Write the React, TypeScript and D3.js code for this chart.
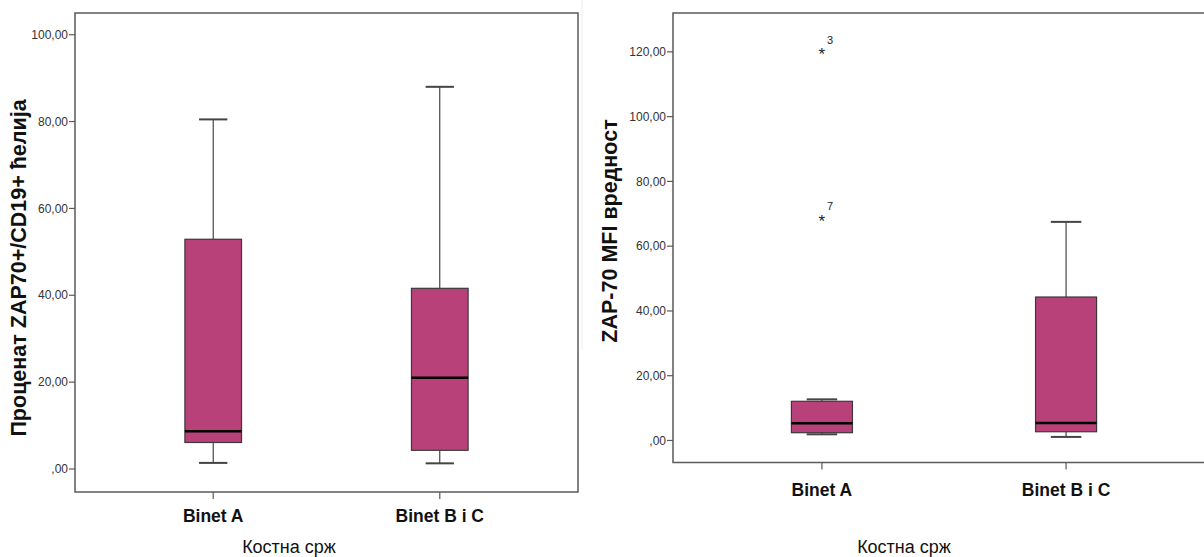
import React from "react";
import * as d3 from "d3";

// Groups on the x axis
const categories = ["Binet A", "Binet B i C"];

// Five-number summaries: [lower whisker, Q1, median, Q3, upper whisker]
const pctStats = [
  [1.4, 6.1, 8.7, 52.9, 80.5],
  [1.3, 4.3, 21.0, 41.6, 88.0],
];
const mfiStats = [
  [1.9, 2.4, 5.3, 12.1, 12.7],
  [1.1, 2.7, 5.4, 44.3, 67.5],
];

// Extreme values shown as stars, with case numbers
const mfiOutliers = [
  { group: "Binet A", value: 121.3, id: "3" },
  { group: "Binet A", value: 70.0, id: "7" },
];

const pctTicks = [0, 20, 40, 60, 80, 100];
const mfiTicks = [0, 20, 40, 60, 80, 100, 120];

const BOX_FILL = "#b9417a";
const FRAME = "#5a5a5a";
const FONT = "'Liberation Sans', Arial, sans-serif";

const fmt = (v: number) => {
  const s = d3.format(".2f")(v).replace(".", ",");
  return s.startsWith("0,") ? s.slice(1) : s;
};

type Outlier = { group: string; value: number; id: string };

function BoxPanel(props: {
  x0: number;
  x1: number;
  yTop: number;
  yBottom: number;
  domain: [number, number];
  ticks: number[];
  stats: number[][];
  outliers: Outlier[];
  yTitle: string;
  yTitleX: number;
  yTitleY: number;
  catLabelY: number;
  xTitleX: number;
  xTitleY: number;
}) {
  const { x0, x1, yTop, yBottom, domain, ticks, stats, outliers } = props;
  const x = d3.scalePoint<string>().domain(categories).range([x0, x1]).padding(0.61);
  const y = d3.scaleLinear().domain(domain).range([yBottom, yTop]);
  const step = x.step();
  const bw = step * 0.25;
  const cw = bw / 2;

  return (
    <g>
      {/* frame */}
      <rect x={x0} y={yTop} width={x1 - x0} height={yBottom - yTop} fill="none" stroke={FRAME} strokeWidth={1.5} />
      {/* y ticks */}
      {ticks.map((t) => (
        <g key={t}>
          <line x1={x0 - 6} x2={x0} y1={y(t)} y2={y(t)} stroke={FRAME} strokeWidth={1.2} />
          <text x={x0 - 7} y={y(t)} dy="0.35em" textAnchor="end" fontSize={12} fill="#333" fontFamily={FONT}>
            {fmt(t)}
          </text>
        </g>
      ))}
      {/* x ticks and category labels */}
      {categories.map((c) => (
        <g key={c}>
          <line x1={x(c)!} x2={x(c)!} y1={yBottom} y2={yBottom + 7} stroke={FRAME} strokeWidth={1.2} />
          <text x={x(c)!} y={props.catLabelY} textAnchor="middle" fontSize={17.5} fontWeight="bold" fill="#111" fontFamily={FONT}>
            {c}
          </text>
        </g>
      ))}
      {/* boxes */}
      {categories.map((c, i) => {
        const [lo, q1, med, q3, hi] = stats[i];
        const cx = x(c)!;
        return (
          <g key={c}>
            <line x1={cx} x2={cx} y1={y(hi)} y2={y(q3)} stroke="#222" strokeWidth={1} />
            <line x1={cx} x2={cx} y1={y(q1)} y2={y(lo)} stroke="#222" strokeWidth={1} />
            <line x1={cx - cw / 2} x2={cx + cw / 2} y1={y(hi)} y2={y(hi)} stroke="#444" strokeWidth={2} />
            <line x1={cx - cw / 2} x2={cx + cw / 2} y1={y(lo)} y2={y(lo)} stroke="#444" strokeWidth={2} />
            <rect x={cx - bw / 2} y={y(q3)} width={bw} height={y(q1) - y(q3)} fill={BOX_FILL} stroke="#3a3a3a" strokeWidth={1.2} />
            <line x1={cx - bw / 2} x2={cx + bw / 2} y1={y(med)} y2={y(med)} stroke="#000" strokeWidth={2.5} />
          </g>
        );
      })}
      {/* outliers */}
      {outliers.map((o) => (
        <g key={o.id}>
          <text x={x(o.group)!} y={y(o.value)} dy="0.75em" textAnchor="middle" fontSize={17} fill="#222" fontFamily={FONT}>
            *
          </text>
          <text x={x(o.group)! + 5} y={y(o.value) - 4} fontSize={11} fill="#222" fontFamily={FONT}>
            {o.id}
          </text>
        </g>
      ))}
      {/* axis titles */}
      <text
        transform={`translate(${props.yTitleX},${props.yTitleY}) rotate(-90)`}
        textAnchor="middle"
        fontSize={21.5}
        fontWeight="bold"
        fill="#111"
        fontFamily={FONT}
      >
        {props.yTitle}
      </text>
      <text x={props.xTitleX} y={props.xTitleY} textAnchor="middle" fontSize={18} fill="#111" fontFamily={FONT}>
        Костна срж
      </text>
    </g>
  );
}

export default function App() {
  return (
    <div style={{ position: "fixed", left: 0, top: 0 }}>
      <svg width={1204} height={557} style={{ display: "block", background: "#fff" }}>
        <line x1={582} x2={582} y1={0} y2={350} stroke="#ececec" strokeWidth={1} />
        <BoxPanel
          x0={75}
          x1={578}
          yTop={13}
          yBottom={492}
          domain={[-5.3, 105.0]}
          ticks={pctTicks}
          stats={pctStats}
          outliers={[]}
          yTitle="Проценат ZAP70+/CD19+ ћелија"
          yTitleX={26}
          yTitleY={268}
          catLabelY={522}
          xTitleX={289}
          xTitleY={553}
        />
        <BoxPanel
          x0={673}
          x1={1215}
          yTop={13}
          yBottom={462.5}
          domain={[-6.8, 132.0]}
          ticks={mfiTicks}
          stats={mfiStats}
          outliers={mfiOutliers}
          yTitle="ZAP-70 MFI вредност"
          yTitleX={617}
          yTitleY={231}
          catLabelY={496}
          xTitleX={904}
          xTitleY={553}
        />
      </svg>
    </div>
  );
}
